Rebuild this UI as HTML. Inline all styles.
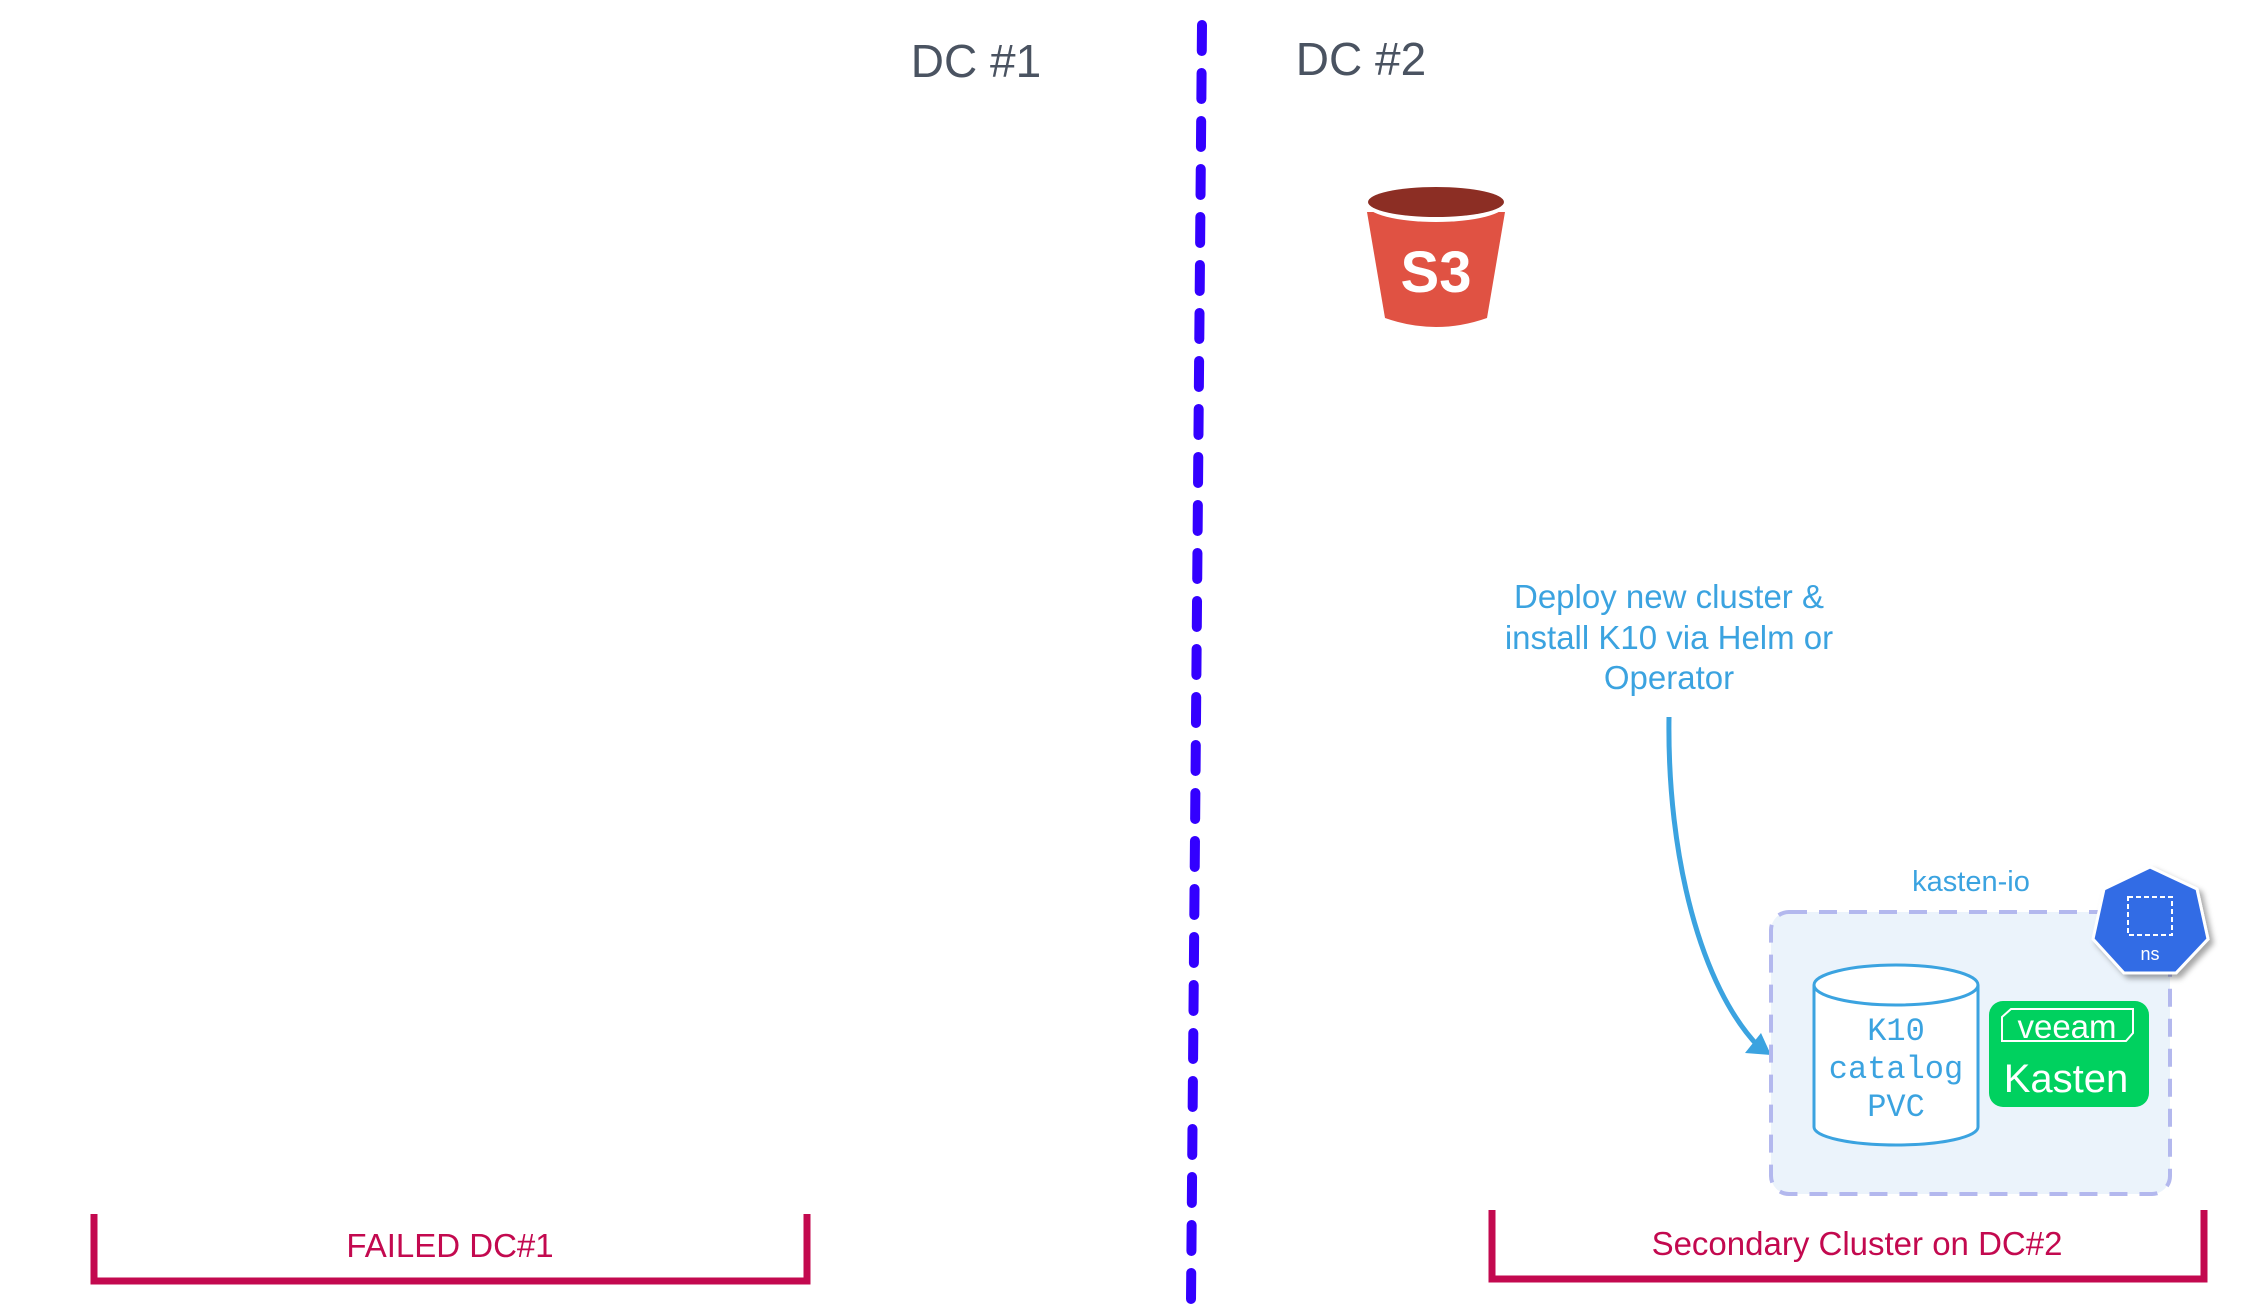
<!DOCTYPE html>
<html><head><meta charset="utf-8"><style>
html,body{margin:0;padding:0;background:#fff;}
svg{display:block;}
</style></head><body>
<svg width="2253" height="1311" viewBox="0 0 2253 1311" xmlns="http://www.w3.org/2000/svg">
<defs>
<filter id="sh" x="-20%" y="-20%" width="150%" height="150%"><feDropShadow dx="4" dy="4" stdDeviation="3" flood-color="#000" flood-opacity="0.35"/></filter>
</defs>
<text x="976" y="77" font-family="Liberation Sans, sans-serif" font-size="46" fill="#4a5361" text-anchor="middle">DC #1</text>
<text x="1361" y="75" font-family="Liberation Sans, sans-serif" font-size="46" fill="#4a5361" text-anchor="middle">DC #2</text>
<line x1="1202" y1="25" x2="1191" y2="1300" stroke="#3300ff" stroke-width="10" stroke-linecap="round" stroke-dasharray="26 22"/>
<g transform="translate(-7,0)">
<path d="M1374 212 L1392 318 Q1443 336 1494 318 L1512 212 Z" fill="#e05243"/>
<ellipse cx="1443" cy="204" rx="70" ry="18" fill="#fff"/>
<ellipse cx="1443" cy="202" rx="68" ry="15" fill="#8c2e24"/>
<text x="1443" y="292" font-family="Liberation Sans, sans-serif" font-weight="bold" font-size="58" fill="#fff" text-anchor="middle">S3</text>
</g>
<g transform="translate(-9,-3)">
<g font-family="Liberation Sans, sans-serif" font-size="33" fill="#3ba3e0" text-anchor="middle">
<text x="1678" y="611">Deploy new cluster &amp;</text>
<text x="1678" y="652">install K10 via Helm or</text>
<text x="1678" y="692">Operator</text>
</g>
<path d="M1678 720 C1676 860 1710 990 1768 1050" fill="none" stroke="#3ba3e0" stroke-width="5"/>
<path d="M1780 1058 L1754 1056 L1770 1036 Z" fill="#3ba3e0"/>
</g>
<g transform="translate(-10,-3)">
<text x="1981" y="894" font-family="Liberation Sans, sans-serif" font-size="29" fill="#3ba3e0" text-anchor="middle">kasten-io</text>
<rect x="1781" y="915" width="399" height="282" rx="18" fill="#ebf3fb" stroke="#b3b8ee" stroke-width="4" stroke-dasharray="18 12"/>
<path d="M1824 988 L1824 1130 A82 18 0 0 0 1988 1130 L1988 988" fill="#fff" stroke="#3ba3e0" stroke-width="3"/>
<ellipse cx="1906" cy="988" rx="82" ry="20" fill="#fff" stroke="#3ba3e0" stroke-width="3"/>
<g font-family="Liberation Mono, monospace" font-size="32" fill="#3ba3e0" text-anchor="middle">
<text x="1906" y="1043">K10</text>
<text x="1906" y="1081">catalog</text>
<text x="1906" y="1119">PVC</text>
</g>
<rect x="1999" y="1004" width="160" height="106" rx="14" fill="#00d15f"/>
<path d="M2012 1020 L2021 1012 L2143 1012 L2143 1036 L2136 1044 L2012 1044 Z" fill="none" stroke="#fff" stroke-width="2"/>
<text x="2077" y="1041" font-family="Liberation Sans, sans-serif" font-size="33" fill="#fff" text-anchor="middle">veeam</text>
<text x="2076" y="1095" font-family="Liberation Sans, sans-serif" font-size="40" fill="#fff" text-anchor="middle">Kasten</text>
<polygon points="2160,870 2207,892 2218,942 2186,976 2134,976 2103,942 2114,892" fill="#326ce5" stroke="#fff" stroke-width="3" filter="url(#sh)"/>
<rect x="2138" y="900" width="44" height="38" fill="none" stroke="#fff" stroke-width="2" stroke-dasharray="5 3"/>
<text x="2160" y="963" font-family="Liberation Sans, sans-serif" font-size="18" fill="#fff" text-anchor="middle">ns</text>
</g>
<path d="M94 1214 L94 1281 L807 1281 L807 1214" fill="none" stroke="#c3094f" stroke-width="7"/>
<text x="450" y="1257" font-family="Liberation Sans, sans-serif" font-size="33" fill="#c3094f" text-anchor="middle">FAILED DC#1</text>
<path d="M1492 1210 L1492 1279 L2204 1279 L2204 1210" fill="none" stroke="#c3094f" stroke-width="7"/>
<text x="1857" y="1255" font-family="Liberation Sans, sans-serif" font-size="33" fill="#c3094f" text-anchor="middle">Secondary Cluster on DC#2</text>
</svg>
</body></html>
